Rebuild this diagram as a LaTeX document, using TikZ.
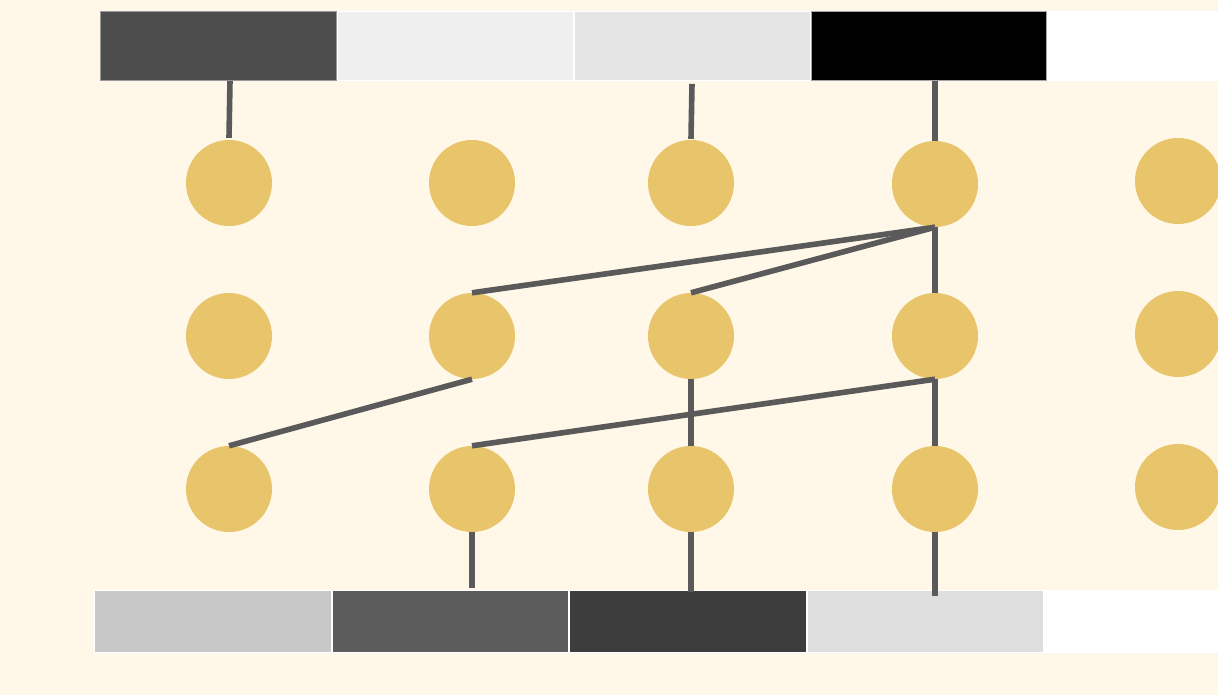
\documentclass[tikz,border=0pt]{standalone}
\usetikzlibrary{calc}
\definecolor{paper}{HTML}{FFF8E8}
\definecolor{dot}{HTML}{E8C46A}
\definecolor{wire}{HTML}{5A5A5A}
\definecolor{topA}{HTML}{4D4D4D}
\definecolor{topB}{HTML}{EFEFEF}
\definecolor{topC}{HTML}{E5E5E5}
\definecolor{botA}{HTML}{C8C8C8}
\definecolor{botB}{HTML}{5C5C5C}
\definecolor{botC}{HTML}{3D3D3D}
\definecolor{botD}{HTML}{DEDEDE}
\begin{document}
\begin{tikzpicture}[x=1pt,y=-1pt,
  cell/.style={rectangle,draw=white,line width=0.8pt,inner sep=0pt,anchor=north west},
  dotnode/.style={circle,fill=dot,draw=none,inner sep=0pt,minimum size=86pt},
  link/.style={draw=wire,line width=5.6pt,line cap=butt}]
% page
\fill[paper] (0,0) rectangle (1218,695);
\useasboundingbox (0,0) rectangle (1218,695);

% upper strip
\node[cell,fill=topA,draw=gray!80,minimum width=236pt,minimum height=69pt] (t1) at (100,11) {};
\node[cell,fill=topB,minimum width=236pt,minimum height=69pt] (t2) at (337,11) {};
\node[cell,fill=topC,minimum width=236pt,minimum height=69pt] (t3) at (574,11) {};
\node[cell,fill=black,draw=gray!70,minimum width=235pt,minimum height=69pt] (t4) at (811,11) {};
\node[cell,fill=white,minimum width=172pt,minimum height=69pt] (t5) at (1047,11) {};

% lower strip
\node[cell,fill=botA,minimum width=237pt,minimum height=62pt] (b1) at (94,590) {};
\node[cell,fill=botB,minimum width=236pt,minimum height=62pt] (b2) at (332,590) {};
\node[cell,fill=botC,minimum width=237pt,minimum height=62pt] (b3) at (569,590) {};
\node[cell,fill=botD,minimum width=236pt,minimum height=62pt] (b4) at (807,590) {};
\node[cell,fill=white,minimum width=175pt,minimum height=62pt] (b5) at (1044,590) {};

% grid of dots
\node[dotnode] (c11) at (229,183) {};
\node[dotnode] (c12) at (472,183) {};
\node[dotnode] (c13) at (691,183) {};
\node[dotnode] (c14) at (935,184) {};
\node[dotnode] (c15) at (1178,181) {};
\node[dotnode] (c21) at (229,336) {};
\node[dotnode] (c22) at (472,336) {};
\node[dotnode] (c23) at (691,336) {};
\node[dotnode] (c24) at (935,336) {};
\node[dotnode] (c25) at (1178,334) {};
\node[dotnode] (c31) at (229,489) {};
\node[dotnode] (c32) at (472,489) {};
\node[dotnode] (c33) at (691,489) {};
\node[dotnode] (c34) at (935,489) {};
\node[dotnode] (c35) at (1178,487) {};

% anchor points on the strips
\coordinate (p1) at ($(t1.south -| c11)+(1,0)$);
\coordinate (p3) at ($(t3.south -| c13)+(1,3)$);
\coordinate (p4) at (t4.south -| c14);
\coordinate (q2) at ($(b2.north -| c32)+(0,-2)$);
\coordinate (q3) at ($(b3.north -| c33)+(0,2)$);
\coordinate (q4) at ($(b4.north -| c34)+(0,6)$);

% links from the upper strip
\draw[link] (p1) -- ($(c11.north)+(0,-2)$);
\draw[link] (p3) -- ($(c13.north)+(0,-1)$);
\draw[link] (p4) -- (c14.north);

% links between rows
\draw[link] (c14.south) -- (c22.north);
\draw[link] (c14.south) -- (c23.north);
\draw[link] (c14.south) -- (c24.north);
\draw[link] (c22.south) -- (c31.north);
\draw[link] (c23.south) -- (c33.north);
\draw[link] (c24.south) -- (c32.north);
\draw[link] (c24.south) -- (c34.north);

% links to the lower strip
\draw[link] (c32.south) -- (q2);
\draw[link] (c33.south) -- (q3);
\draw[link] (c34.south) -- (q4);
\end{tikzpicture}
\end{document}
